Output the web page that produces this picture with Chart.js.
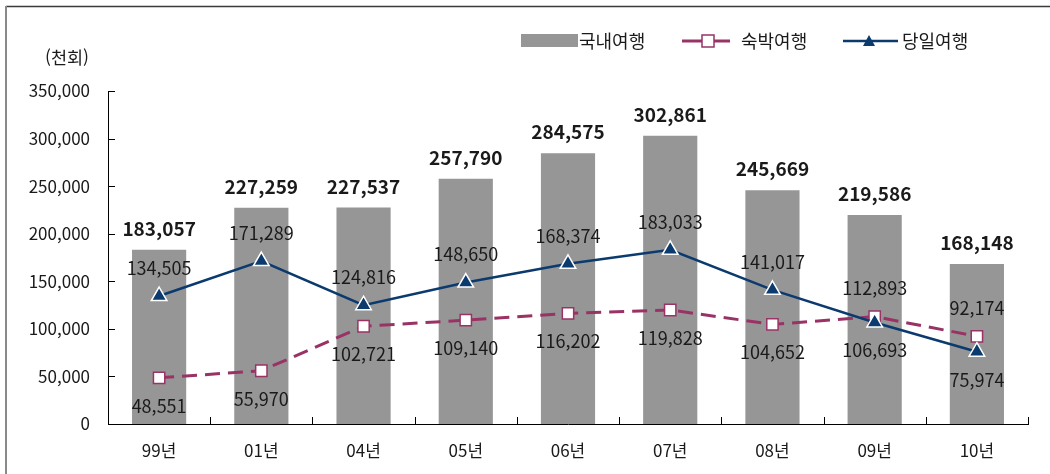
<!DOCTYPE html>
<html lang="ko">
<head>
<meta charset="utf-8">
<title>국내여행 추이</title>
<script src="https://cdn.jsdelivr.net/npm/chart.js@4.4.1/dist/chart.umd.min.js"></script>
<style>
    html, body { margin: 0; padding: 0; background: #fff; }
    #wrap { width: 1050px; height: 474px; position: relative; }
</style>
</head>
<body>
<div id="wrap">
    <canvas id="travelChart" width="1050" height="474"></canvas>
</div>
<script>
// =============================================
// DATA
// =============================================

const years      = ["99년", "01년", "04년", "05년", "06년", "07년", "08년", "09년", "10년"];
const domestic   = [183057, 227259, 227537, 257790, 284575, 302861, 245669, 219586, 168148];
const overnight  = [48551, 55970, 102721, 109140, 116202, 119828, 104652, 112893, 92174];
const dayTrip    = [134505, 171289, 124816, 148650, 168374, 183033, 141017, 106693, 75974];
const yTicks     = [0, 50000, 100000, 150000, 200000, 250000, 300000, 350000];
const unitLabel  = "(천회)";

// where each line label sits relative to its point
const overnightPlace = ["below", "below", "below", "below", "below", "below", "below", "above", "above"];
const dayTripPlace   = ["above", "above", "above", "above", "above", "above", "above", "below", "below"];

// =============================================
// STYLE
// =============================================

const FONT     = "'Noto Sans CJK KR', 'Noto Sans', sans-serif";
const BAR_GREY = "#969696";
const PLUM     = "#993366";
const NAVY     = "#0B3A6E";
const TEXT     = "#1a1a1a";

const fmt = v => v.toLocaleString("en-US");

// =============================================
// PLUGIN: frame, axis ticks, legend, value labels
// =============================================

const decorPlugin = {
    id: "decor",

    beforeDraw(chart) {
        const c = chart.ctx;
        c.save();
        // outer frame (top + left only, as in the source image)
        c.strokeStyle = "#3a3a3a";
        c.lineWidth = 1.5;
        c.beginPath();
        c.moveTo(6, 6.5);
        c.lineTo(1050, 6.5);
        c.stroke();
        c.strokeStyle = "#8a8a8a";
        c.lineWidth = 2;
        c.beginPath();
        c.moveTo(6, 6);
        c.lineTo(6, 474);
        c.stroke();

        // unit label
        c.fillStyle = TEXT;
        c.font = "17.5px " + FONT;
        c.textAlign = "right";
        c.textBaseline = "middle";
        c.fillText(unitLabel, 89, 57);
        c.restore();
    },

    afterDraw(chart) {
        const c = chart.ctx;
        const area = chart.chartArea;
        const ys = chart.scales.y;

        c.save();
        c.strokeStyle = "#000";
        c.lineWidth = 1;

        // inward ticks on y axis
        yTicks.forEach(v => {
            const y = Math.round(ys.getPixelForValue(v)) + 0.5;
            c.beginPath();
            c.moveTo(area.left, y);
            c.lineTo(area.left + 7, y);
            c.stroke();
        });

        // inward ticks on x axis, between categories
        const step = (area.right - area.left) / years.length;
        for (let i = 0; i <= years.length; i++) {
            const x = Math.round(area.left + i * step) + 0.5;
            c.beginPath();
            c.moveTo(x, area.bottom);
            c.lineTo(x, area.bottom - 7);
            c.stroke();
        }

        // ---- legend ----
        const ly = 41;
        c.font = "18px " + FONT;
        c.textAlign = "left";
        c.textBaseline = "middle";

        c.fillStyle = BAR_GREY;
        c.fillRect(521, 34, 57, 13);
        c.fillStyle = TEXT;
        c.fillText(chart.data.datasets[0].label, 579, ly);

        c.strokeStyle = PLUM;
        c.lineWidth = 3;
        c.beginPath();
        c.moveTo(682, ly);
        c.lineTo(730, ly);
        c.stroke();
        c.fillStyle = "#fff";
        c.lineWidth = 1.5;
        c.fillRect(702, ly - 6, 12, 12);
        c.strokeRect(702, ly - 6, 12, 12);
        c.fillStyle = TEXT;
        c.fillText(chart.data.datasets[1].label, 741, ly);

        c.strokeStyle = NAVY;
        c.lineWidth = 2.5;
        c.beginPath();
        c.moveTo(843, ly);
        c.lineTo(898, ly);
        c.stroke();
        c.fillStyle = NAVY;
        c.beginPath();
        c.moveTo(869, ly - 6);
        c.lineTo(875, ly + 5);
        c.lineTo(863, ly + 5);
        c.closePath();
        c.fill();
        c.fillStyle = TEXT;
        c.fillText(chart.data.datasets[2].label, 902, ly);

        c.restore();
    },

    afterDatasetsDraw(chart) {
        const c = chart.ctx;
        c.save();
        c.textAlign = "center";
        c.textBaseline = "middle";
        c.fillStyle = TEXT;

        // bar totals (bold, above bars)
        const barMeta = chart.getDatasetMeta(0);
        c.font = "bold 19px " + FONT;
        barMeta.data.forEach((el, i) => {
            c.fillText(fmt(domestic[i]), el.x, el.y - 21);
        });

        // line labels
        c.font = "18px " + FONT;
        const drawLine = (idx, values, place) => {
            chart.getDatasetMeta(idx).data.forEach((el, i) => {
                const dy = place[i] === "above" ? -28 : 28;
                c.fillText(fmt(values[i]), el.x, el.y + dy);
            });
        };
        drawLine(1, overnight, overnightPlace);
        drawLine(2, dayTrip, dayTripPlace);

        c.restore();
    }
};

// =============================================
// CHART
// =============================================

new Chart(document.getElementById("travelChart"), {
    data: {
        labels: years,
        datasets: [
            {
                type: "bar",
                label: "국내여행",
                data: domestic,
                backgroundColor: BAR_GREY,
                barPercentage: 0.53,
                categoryPercentage: 1,
                order: 3
            },
            {
                type: "line",
                label: "숙박여행",
                data: overnight,
                borderColor: PLUM,
                borderWidth: 3,
                borderDash: [15, 8],
                pointStyle: "rect",
                pointRadius: 8,
                pointBackgroundColor: "#fff",
                pointBorderColor: PLUM,
                pointBorderWidth: 1.5,
                tension: 0,
                order: 2
            },
            {
                type: "line",
                label: "당일여행",
                data: dayTrip,
                borderColor: NAVY,
                borderWidth: 2.5,
                pointStyle: "triangle",
                pointRadius: 9,
                pointBackgroundColor: NAVY,
                pointBorderColor: "#fff",
                pointBorderWidth: 1.5,
                tension: 0,
                order: 1
            }
        ]
    },
    options: {
        responsive: false,
        animation: false,
        layout: { padding: { top: 91, right: 22, bottom: 0, left: 0 } },
        plugins: {
            legend: { display: false },
            tooltip: { enabled: false }
        },
        scales: {
            x: {
                grid: { display: false, drawTicks: false },
                border: { display: true, color: "#000", width: 1 },
                ticks: { font: { family: FONT, size: 17 }, color: TEXT, padding: 16 },
                afterFit: s => { s.height = 50; }
            },
            y: {
                min: 0,
                max: 350000,
                afterBuildTicks: s => { s.ticks = yTicks.map(v => ({ value: v })); },
                grid: { display: false, drawTicks: false },
                border: { display: true, color: "#000", width: 1 },
                ticks: {
                    font: { family: FONT, size: 17 },
                    color: TEXT,
                    padding: 18,
                    callback: v => fmt(v)
                },
                afterFit: s => { s.width = 108; }
            }
        }
    },
    plugins: [decorPlugin]
});
</script>
</body>
</html>
